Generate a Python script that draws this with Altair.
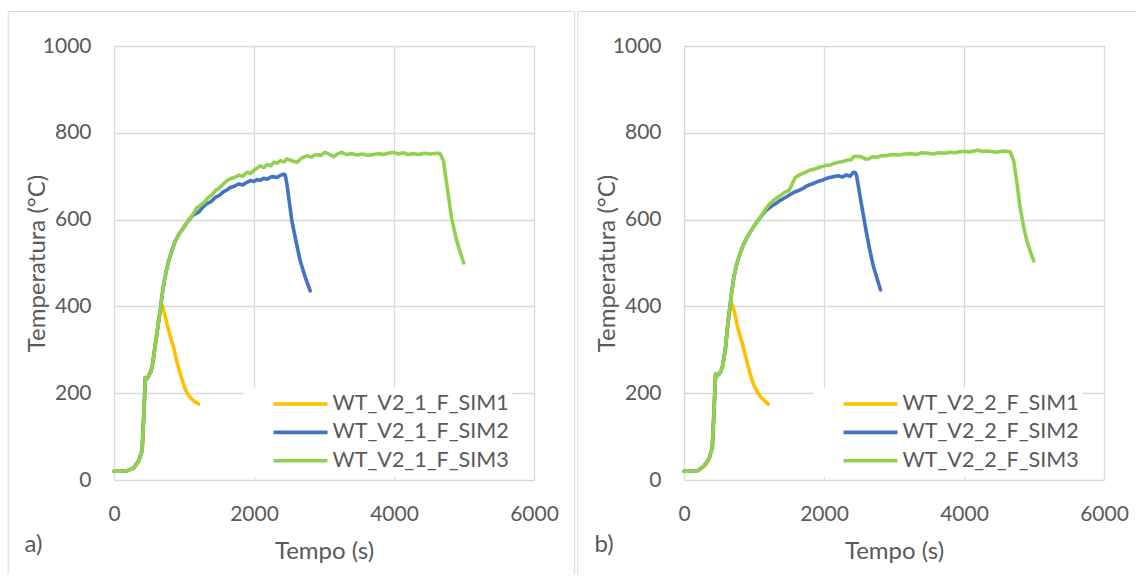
import altair as alt
import pandas as pd

# ---------------- data ----------------
panel_tags = ["a)", "b)"]
names_a = ["WT_V2_1_F_SIM1", "WT_V2_1_F_SIM2", "WT_V2_1_F_SIM3"]
names_b = ["WT_V2_2_F_SIM1", "WT_V2_2_F_SIM2", "WT_V2_2_F_SIM3"]
series_colors = ["#FFC000", "#4472C4", "#92D050"]
x_ticks = [0, 2000, 4000, 6000]
y_ticks = [0, 200, 400, 600, 800, 1000]
x_title = "Tempo (s)"
y_title = "Temperatura (°C)"

# panel a) shared heating start
rise_a_t = [0, 100, 200, 281, 353, 401, 424, 448, 470, 496, 520, 543, 567, 591, 615, 638, 660]
rise_a_T = [20, 20, 22, 28, 44, 67, 144, 236, 233, 240, 248, 259, 285, 313, 340, 367, 390]

a1_t = [686, 720, 757, 800, 852, 900, 948, 985, 1019, 1060, 1114, 1160, 1209]
a1_T = [403, 385, 359, 333, 305, 272, 244, 225, 209, 196, 186, 180, 175]

a2_t = [686, 710, 745, 781, 830, 876, 935, 995, 1055, 1114, 1160, 1210, 1260, 1320, 1380,
        1447, 1500, 1560, 1610, 1661, 1720, 1780, 1840, 1899, 1950, 2000, 2040, 2089, 2140,
        2190, 2240, 2280, 2330, 2380, 2422, 2445, 2470, 2505, 2541, 2600, 2660, 2730, 2803]
a2_T = [424, 451, 480, 505, 530, 551, 568, 582, 596, 608, 613, 617, 627, 636, 641,
        651, 655, 664, 668, 674, 677, 682, 680, 686, 690, 688, 692, 691, 695,
        693, 698, 699, 697, 702, 705, 703, 682, 640, 597, 550, 505, 468, 436]

a3_t = [686, 710, 745, 781, 830, 876, 935, 995, 1055, 1114, 1150, 1186, 1230, 1290, 1340,
        1400, 1447, 1500, 1550, 1600, 1661, 1720, 1780, 1840, 1899, 1950, 2000, 2040, 2089,
        2140, 2190, 2240, 2280, 2330, 2380, 2430, 2470, 2530, 2613, 2680, 2756, 2820, 2880,
        2950, 3017, 3080, 3136, 3200, 3255, 3320, 3400, 3469, 3550, 3620, 3707, 3780, 3850,
        3920, 3992, 4060, 4130, 4200, 4277, 4350, 4430, 4520, 4611, 4658, 4705, 4753, 4825,
        4896, 4995]
a3_T = [424, 451, 480, 505, 530, 551, 568, 582, 597, 609, 618, 628, 632, 640, 650,
        657, 667, 672, 680, 688, 694, 697, 702, 700, 709, 706, 714, 718, 724,
        720, 727, 724, 732, 730, 736, 733, 740, 736, 732, 742, 747, 744, 750,
        748, 755, 750, 745, 752, 755, 750, 752, 749, 751, 748, 750, 752, 750,
        753, 755, 751, 754, 750, 752, 750, 753, 751, 753, 752, 736, 682, 601,
        551, 500]

# panel b) shared heating start
rise_b_t = [0, 95, 200, 285, 356, 404, 427, 451, 475, 498, 522, 546, 570, 593, 626, 645]
rise_b_T = [20, 20, 22, 32, 48, 75, 152, 244, 240, 244, 250, 259, 280, 305, 359, 385]

b1_t = [675, 720, 756, 800, 850, 900, 945, 990, 1040, 1090, 1150, 1206]
b1_T = [409, 388, 359, 333, 305, 272, 244, 222, 205, 192, 183, 175]

b2_t = [675, 712, 745, 783, 820, 854, 910, 973, 1030, 1091, 1163, 1258, 1320, 1380, 1448,
        1500, 1560, 1638, 1700, 1760, 1828, 1900, 1960, 2018, 2080, 2140, 2209, 2260, 2320,
        2370, 2422, 2450, 2467, 2530, 2597, 2650, 2704, 2760, 2808]
b2_T = [425, 467, 492, 513, 530, 544, 562, 578, 592, 605, 620, 632, 638, 645, 651,
        656, 662, 667, 672, 678, 682, 687, 690, 694, 697, 699, 701, 698, 703,
        700, 709, 708, 700, 640, 578, 533, 493, 463, 438]

b3_t = [675, 712, 745, 783, 820, 854, 910, 973, 1030, 1091, 1163, 1220, 1282, 1340, 1400,
        1448, 1500, 1540, 1590, 1650, 1733, 1800, 1860, 1920, 1971, 2030, 2090, 2150, 2209,
        2270, 2330, 2390, 2422, 2480, 2540, 2600, 2635, 2700, 2760, 2825, 2900, 2980, 3060,
        3157, 3240, 3320, 3400, 3489, 3560, 3640, 3726, 3800, 3880, 3950, 4011, 4080, 4140,
        4201, 4260, 4330, 4391, 4450, 4510, 4570, 4629, 4660, 4710, 4760, 4800, 4850, 4900,
        4950, 4996]
b3_T = [425, 467, 492, 513, 530, 544, 562, 578, 592, 605, 624, 636, 645, 652, 658,
        664, 667, 680, 697, 703, 709, 714, 716, 720, 722, 725, 726, 730, 732,
        734, 737, 738, 745, 746, 744, 739, 740, 745, 744, 747, 748, 750, 749,
        751, 752, 750, 754, 753, 751, 754, 753, 755, 754, 757, 757, 756, 758,
        760, 757, 758, 757, 755, 757, 758, 757, 756, 735, 680, 629, 585, 550,
        525, 505]

FONT = "Lato"
GRAY = "#595959"
GRID = "#D9D9D9"


def frame(names, parts):
    rows = []
    for name, (ts, Ts) in zip(names, parts):
        for a, b in zip(ts, Ts):
            rows.append({"t": a, "T": b, "serie": name})
    return pd.DataFrame(rows)


df_a = frame(names_a, [(rise_a_t + a1_t, rise_a_T + a1_T),
                       (rise_a_t + a2_t, rise_a_T + a2_T),
                       (rise_a_t + a3_t, rise_a_T + a3_T)])
df_b = frame(names_b, [(rise_b_t + b1_t, rise_b_T + b1_T),
                       (rise_b_t + b2_t, rise_b_T + b2_T),
                       (rise_b_t + b3_t, rise_b_T + b3_T)])

W, H = 420, 434


def panel(df, names, tag, left_edge, right_edge):
    x = alt.X("t:Q", scale=alt.Scale(domain=[0, 6000], nice=False),
              axis=alt.Axis(values=x_ticks, format="d", title=x_title, grid=True,
                            gridColor=GRID, gridWidth=1.3, domain=False, ticks=False,
                            labelPadding=23, labelFont=FONT, labelFontSize=21,
                            labelColor=GRAY, labelFlush=False, labelOverlap=False,
                            titleFont=FONT, titleFontSize=24, titleColor=GRAY,
                            titleFontWeight="normal", titleBaseline="alphabetic",
                            titleX=W / 2, titleY=78))
    y = alt.Y("T:Q", scale=alt.Scale(domain=[0, 1000], nice=False),
              axis=alt.Axis(values=y_ticks, format="d", title=y_title, grid=True,
                            gridColor=GRID, gridWidth=1.3, domain=False, ticks=False,
                            labelPadding=23, labelFont=FONT, labelFontSize=21,
                            labelColor=GRAY, labelFlush=False, labelOverlap=False,
                            titleFont=FONT, titleFontSize=24, titleColor=GRAY,
                            titleFontWeight="normal", titleBaseline="alphabetic",
                            titleAngle=270, titleAlign="center",
                            titleX=-70, titleY=H / 2))
    color = alt.Color("serie:N", scale=alt.Scale(domain=names, range=series_colors),
                      legend=alt.Legend(title=None, orient="none", legendX=129.5, legendY=342,
                                        fillColor="white", padding=3, symbolType="stroke",
                                        symbolSize=2916, symbolStrokeWidth=3.6,
                                        symbolOffset=25,
                                        clipHeight=26, rowPadding=2.4,
                                        labelFont=FONT, labelFontSize=21.5, labelColor=GRAY,
                                        labelLimit=400, labelOffset=3,
                                        labelExpr="datum.label + '      '"))
    lines = alt.Chart(df).mark_line(strokeWidth=3.6, strokeCap="round",
                                    strokeJoin="round").encode(x=x, y=y, color=color)
    one = pd.DataFrame({"tag": [tag]})
    label = alt.Chart(one).mark_text(font=FONT, fontSize=24, color=GRAY, align="left",
                                     baseline="alphabetic").encode(
        text="tag:N", x=alt.value(-89.5), y=alt.value(506))
    frame_col = "#D9D9D9"
    top = alt.Chart(one).mark_rule(color=frame_col, strokeWidth=1).encode(
        x=alt.value(left_edge), x2=alt.value(right_edge), y=alt.value(-34.5))
    side = alt.Chart(one).mark_rule(color=frame_col, strokeWidth=1).encode(
        x=alt.value(left_edge), y=alt.value(-34.5), y2=alt.value(528))
    return [top, side, lines, label]


left = alt.layer(*panel(df_a, names_a, panel_tags[0], -105.8, 460.7),
                 alt.Chart(pd.DataFrame({"tag": ["r"]})).mark_rule(
                     color="#D9D9D9", strokeWidth=1).encode(
                     x=alt.value(460.7), y=alt.value(-34.5), y2=alt.value(528))
                 ).properties(width=W, height=H)
right = alt.layer(*panel(df_b, names_b, panel_tags[1], -106.3, 452.0)
                  ).properties(width=W, height=H)

chart = alt.hconcat(left, right, spacing=0).resolve_scale(
    color="independent").resolve_legend(color="independent").properties(
    padding={"left": 7, "top": 10, "right": 0, "bottom": 0}, background="white"
).configure_view(stroke="transparent")

chart.save("out.html", embed_options={"renderer": "svg", "actions": False})
